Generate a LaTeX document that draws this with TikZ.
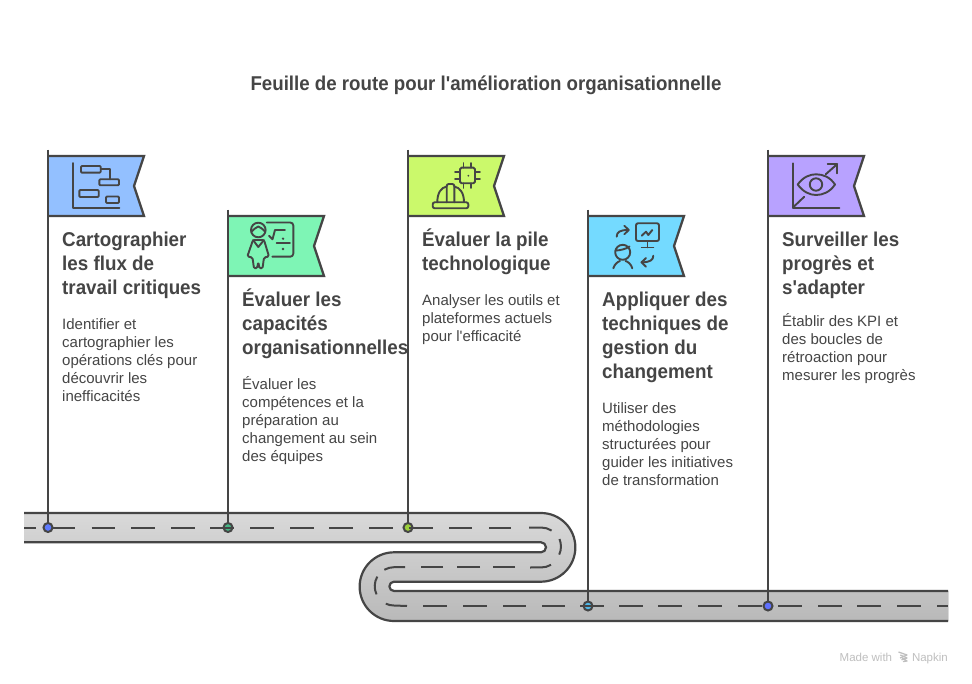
\documentclass[tikz,border=0pt]{standalone}
\usepackage{fontspec}
\setmainfont{Liberation Sans}
\newfontfamily\headfont[FakeStretch=0.94]{Liberation Sans Bold}
\newfontfamily\titlefont[FakeStretch=0.935]{Liberation Sans Bold}
\newfontfamily\bodyfont{Liberation Sans}
\definecolor{ink}{HTML}{454545}
\definecolor{flagA}{HTML}{93C0FF}
\definecolor{flagB}{HTML}{7EF5B5}
\definecolor{flagC}{HTML}{CBF96B}
\definecolor{flagD}{HTML}{74DAFF}
\definecolor{flagE}{HTML}{B8A2FF}
\definecolor{dotA}{HTML}{5F7BFF}
\definecolor{dotB}{HTML}{45B585}
\definecolor{dotC}{HTML}{9BCF3A}
\definecolor{dotD}{HTML}{4FB8E8}
\definecolor{dotE}{HTML}{5F70FF}
\definecolor{roadTop}{HTML}{D9D9D9}
\definecolor{roadBot}{HTML}{B9B9B9}
\newcommand{\fl}{\rule{0pt}{0.95em}}
\tikzset{
  x=1pt,y=-1pt,
  flagshape/.style={draw=ink,line width=2.3pt,line join=miter},
  pole/.style={draw=ink,line width=2.2pt},
  roaddash/.style={draw=ink,line width=2pt},
  roadedge/.style={draw=ink,line width=2.2pt,line join=round},
  icon/.style={draw=ink,line width=1.9pt,line cap=round,line join=round},
  dotnode/.style={circle,draw=ink,line width=2pt,minimum size=9pt,inner sep=0pt},
  headtxt/.style={anchor=north west,align=left,inner sep=0pt,text=ink,font=\headfont\fontsize{20}{24}\selectfont},
  bodytxt/.style={anchor=north west,align=left,inner sep=0pt,text=ink,font=\bodyfont\fontsize{15}{18}\selectfont},
  foottxt/.style={inner sep=0pt,text=black!25,font=\bodyfont\fontsize{11.5}{14}\selectfont},
}
\newcommand{\flagat}[3]{% x, top y, colour
  \fill[#3] (#1,#2) -- ++(96,0) -- ++(-10,30) -- ++(10,30) -- ++(-96,0) -- cycle;
  \draw[flagshape] (#1,#2) -- ++(96,0) -- ++(-10,30) -- ++(10,30) -- ++(-96,0);
}
\begin{document}
\begin{tikzpicture}
\useasboundingbox (0,0) rectangle (972,684);
\fill[white] (0,0) rectangle (972,684);
% road
\fill[top color=roadTop,bottom color=roadBot]
  (24,513) -- (541,513) arc[start angle=-90,end angle=90,radius=34.35]
  -- (394,581.7) arc[start angle=-90,end angle=-270,radius=4.65]
  -- (948,591) -- (948,621) -- (394,621)
  arc[start angle=90,end angle=270,radius=34.35]
  -- (541,552.3) arc[start angle=90,end angle=-90,radius=5]
  -- (24,542.3) -- cycle;
\draw[roadedge] (24,513) -- (541,513) arc[start angle=-90,end angle=90,radius=34.35]
  -- (394,581.7) arc[start angle=-90,end angle=-270,radius=4.65]
  -- (948,591);
\draw[roadedge] (948,621) -- (394,621)
  arc[start angle=90,end angle=270,radius=34.35]
  -- (541,552.3) arc[start angle=90,end angle=-90,radius=5]
  -- (24,542.3);
% poles, dots
\node[dotnode,fill=dotA] (d1) at (48,527.5) {};
\node[dotnode,fill=dotB] (d2) at (228,527.5) {};
\node[dotnode,fill=dotC] (d3) at (408,527.5) {};
\node[dotnode,fill=dotD] (d4) at (588,606) {};
\node[dotnode,fill=dotE] (d5) at (768,606) {};
% dashes
\foreach \a/\b in {24/36,52/75,91.5/115,131/155,171/195,210/234,250/274,290/314,329/353,369/393,409/433,449/472,489/511}
  \draw[roaddash] (\a,527.5) -- (\b,527.5);
\draw[roaddash] (529,527.5) -- (541,527.5) arc[start angle=-90,end angle=-58,radius=20];
\draw[roaddash] (559.5,539) arc[start angle=-22,end angle=24,radius=20];
\draw[roaddash] (551,564.8) arc[start angle=60,end angle=90,radius=20] -- (530,567.5);
\foreach \a/\b in {515/493,480/457,443/421}
  \draw[roaddash] (\a,567.2) -- (\b,567.2);
\draw[roaddash] (405,567.2) -- (394,567.2) arc[start angle=-90,end angle=-120,radius=19.3];
\draw[roaddash] (377.3,576.6) arc[start angle=-150,end angle=-205,radius=19.3];
\draw[roaddash] (385.8,603.7) arc[start angle=115,end angle=90,radius=19.3] -- (407,606);
\foreach \a/\b in {423/447,463/487,503/526,542/565,580/604,619/643,658/682,698/722,738/762,778/802,818/842,857/881,897/921,937/948}
  \draw[roaddash] (\a,606) -- (\b,606);
% flags
\draw[pole] (48,150) -- (d1.north);
\draw[pole] (228,210) -- (d2.north);
\draw[pole] (408,150) -- (d3.north);
\draw[pole] (588,210) -- (d4.north);
\draw[pole] (768,150) -- (d5.north);
\flagat{48}{156}{flagA}
\flagat{228}{216}{flagB}
\flagat{408}{156}{flagC}
\flagat{588}{216}{flagD}
\flagat{768}{156}{flagE}
\draw[pole] (48,150) -- (48,220);
\draw[pole] (228,210) -- (228,280);
\draw[pole] (408,150) -- (408,220);
\draw[pole] (588,210) -- (588,280);
\draw[pole] (768,150) -- (768,220);
% icon 1
\draw[icon] (73.3,163) -- (73.3,208.3) -- (119.3,208.3);
\draw[icon,rounded corners=1pt] (81,166) rectangle (100.7,172.7);
\draw[icon,rounded corners=1pt] (99.3,179.3) rectangle (119,185.3);
\draw[icon,rounded corners=1pt] (79.3,190) rectangle (98.7,197);
\draw[icon,rounded corners=1pt] (106,196.5) rectangle (119,203);
\draw[icon] (100.7,169.3) -- (110,169.3) -- (110,179.3);
% icon 2
\draw[icon] (258.3,230) circle[radius=7.3];
\draw[icon] (251.3,232) .. controls (254,229) and (256,227.5) .. (258.3,226.5) .. controls (260.5,227.5) and (263,229) .. (265.3,232);
\draw[icon] (253,240) -- (258.3,247) -- (264,240);
\draw[icon,rounded corners=1.5pt] (253,240) -- (264,240) -- (269,256.5) -- (264,257.5) -- (262.5,268.5) -- (259.5,268.5) -- (258.3,262) -- (257,268.5) -- (254,268.5) -- (252.5,257.5) -- (247.3,256.5) -- cycle;
\draw[icon,rounded corners=3pt] (266.7,222.5) -- (293.3,222.5) -- (293.3,256.7) -- (272.3,256.7);
\draw[icon] (269,235.7) -- (272.5,239.3) -- (275,230) -- (285,230);
\draw[icon] (276.7,243.3) -- (290,243.3);
\fill[ink] (283,238.7) circle[radius=1.3] (283,249) circle[radius=1.3];
% icon 3
\draw[icon,rounded corners=1.5pt] (460,167.7) rectangle (475,183.3);
\foreach \p in {463.5,471.3} { \draw[icon] (\p,163) -- (\p,167.7); \draw[icon] (\p,183.3) -- (\p,188); }
\foreach \p in {171.7,179.3} { \draw[icon] (455,\p) -- (460,\p); \draw[icon] (475,\p) -- (480,\p); }
\fill[ink] (468.3,175.7) circle[radius=1];
\draw[icon,rounded corners=2pt] (432.7,202.3) rectangle (468.3,208.3);
\draw[icon] (437.3,202.3) .. controls (437.3,193) and (441,187.5) .. (446.7,186.5);
\draw[icon] (454.3,186.5) .. controls (460,187.5) and (464,193) .. (464,202.3);
\draw[icon,rounded corners=2pt] (446.7,202.3) -- (446.7,184) -- (454.3,184) -- (454.3,202.3);
% icon 4
\draw[icon,rounded corners=2pt] (636,223.3) rectangle (659,241);
\draw[icon] (647.5,241) -- (647.5,247.5);
\draw[icon] (641.7,247.5) -- (653.3,247.5);
\draw[icon] (641.7,235.7) -- (646,231.7) -- (648.3,235) -- (652.3,230);
\draw[icon] (616.7,236.7) .. controls (616.7,232) and (620,230) .. (628.3,230);
\draw[icon] (624.3,225.7) -- (628.7,230) -- (624.3,234.3);
\draw[icon] (653.3,255.7) .. controls (653.3,260) and (650,262.3) .. (641.7,262.3);
\draw[icon] (646,258) -- (641.5,262.3) -- (646,266.7);
\draw[icon] (622.7,252.3) circle[radius=7.5];
\draw[icon] (615.5,250.5) .. controls (620,250.5) and (626,249) .. (629.5,246.5);
\draw[icon] (613.3,268.3) .. controls (614.5,264) and (618,261.7) .. (620,261);
\draw[icon] (632.3,268.3) .. controls (631,264) and (628,261.7) .. (625.5,261);
% icon 5
\draw[icon] (792.7,163.3) -- (792.7,207.7) -- (839.3,207.7);
\draw[icon] (792.7,207.7) -- (804.3,196.7);
\draw[icon] (825.7,174.3) -- (837.3,164);
\draw[icon] (827.7,164) -- (837.3,164) -- (837.3,173.3);
\draw[icon] (797.7,184.5) .. controls (803,177) and (810,174.3) .. (816,174.3) .. controls (823,174.3) and (830,177) .. (835,184.5) .. controls (830,192) and (823,195) .. (816,195) .. controls (810,195) and (803,192) .. (797.7,184.5) -- cycle;
\draw[icon] (816,184.5) circle[radius=6.2];
% text
\node[text=ink,font=\titlefont\fontsize{20}{24}\selectfont] (title) at (486,85) {Feuille de route pour l'amélioration organisationnelle};
\node[headtxt] (h1) at (62,227) {\fl Cartographier\\les flux de\\travail critiques};
\node[headtxt] (h2) at (242,287) {\fl Évaluer les\\capacités\\organisationnelles};
\node[headtxt] (h3) at (422,227) {\fl Évaluer la pile\\technologique};
\node[headtxt] (h4) at (602,287) {\fl Appliquer des\\techniques de\\gestion du\\changement};
\node[headtxt] (h5) at (782,227) {\fl Surveiller les\\progrès et\\s'adapter};
\node[bodytxt] (b1) at (62,315) {\fl Identifier et\\cartographier les\\opérations clés pour\\découvrir les\\inefficacités};
\node[bodytxt] (b2) at (242,375) {\fl Évaluer les\\compétences et la\\préparation au\\changement au sein\\des équipes};
\node[bodytxt] (b3) at (422,291) {\fl Analyser les outils et\\plateformes actuels\\pour l'efficacité};
\node[bodytxt] (b4) at (602,399) {\fl Utiliser des\\méthodologies\\structurées pour\\guider les initiatives\\de transformation};
\node[bodytxt] (b5) at (782,312) {\fl Établir des KPI et\\des boucles de\\rétroaction pour\\mesurer les progrès};
% footer
\node[foottxt,anchor=base east] (nap) at (948,661) {Napkin};
\node[foottxt,anchor=base west] (made) at (839.5,661) {Made with};
\foreach \o in {0,3,6}
  \draw[black!25,line width=1.3pt,line join=round] (898.5+0.6*\o,652+\o) -- (907,655+\o) -- (900+0.5*\o,658+\o*0.6);
\end{tikzpicture}
\end{document}
